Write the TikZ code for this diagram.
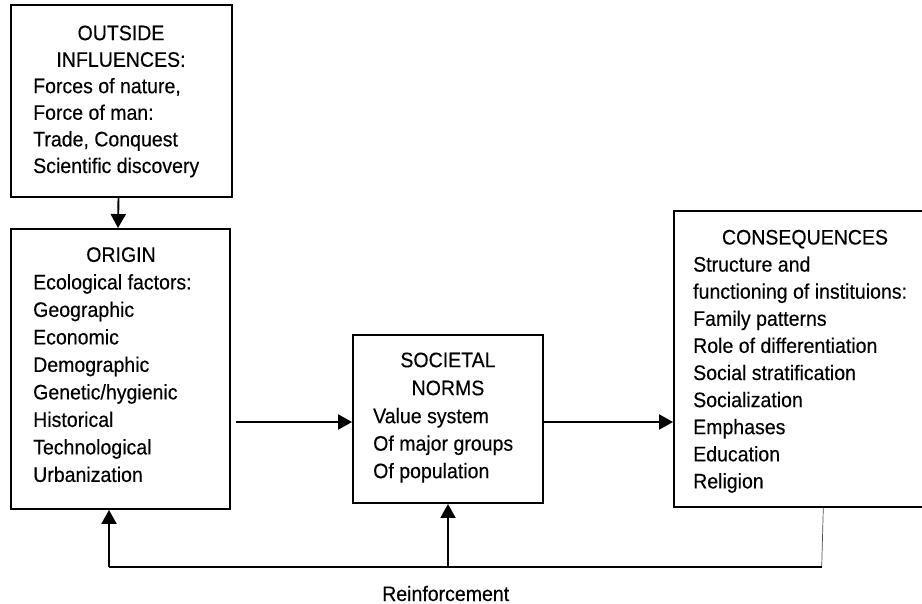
\documentclass[tikz,border=0pt]{standalone}
\usepackage{fontspec}
\setmainfont{Liberation Sans}[FakeStretch=0.93,FakeBold=0.3]
\usetikzlibrary{arrows.meta}
\newcommand{\fst}{\rule{0pt}{16pt}}
\begin{document}
\begin{tikzpicture}[x=1pt,y=-1pt,
  box/.style={draw,line width=1.9pt,inner sep=0pt},
  ttl/.style={anchor=north,inner sep=0pt,align=center},
  bdy/.style={anchor=north west,inner sep=0pt,align=left},
  arr/.style={line width=1.9pt,-{Triangle[length=14pt,width=15pt]}},
  ln/.style={line width=1.9pt},
  thinln/.style={line width=0.7pt,black!70}]
\useasboundingbox (0,0) rectangle (922,604);
\clip (0,0) rectangle (922,604);
% boxes
\node[box,minimum width=221pt,minimum height=192pt] (out) at (121.5,101) {};
\node[box,minimum width=219pt,minimum height=280pt] (ori) at (120.5,369) {};
\node[box,minimum width=190pt,minimum height=168pt] (soc) at (448,419) {};
\node[box,minimum width=260pt,minimum height=296pt] (con) at (804,359) {};
% texts
\node[ttl,font=\fontsize{21}{26.6}\selectfont] (outT) at (121,24) {\fst OUTSIDE\\INFLUENCES:};
\node[bdy,font=\fontsize{21}{26.6}\selectfont] (outB) at (33,77) {\fst Forces of nature,\\Force of man:\\Trade, Conquest\\Scientific discovery};
\node[ttl,font=\fontsize{21}{27.5}\selectfont] (oriT) at (121,245.7) {\fst ORIGIN};
\node[bdy,font=\fontsize{21}{27.5}\selectfont] (oriB) at (33,273.2) {\fst Ecological factors:\\Geographic\\Economic\\Demographic\\Genetic/hygienic\\Historical\\Technological\\Urbanization};
\node[ttl,font=\fontsize{21}{28}\selectfont] (socT) at (448,351) {\fst SOCIETAL\\NORMS};
\node[bdy,font=\fontsize{21}{27.5}\selectfont] (socB) at (373,407) {\fst Value system\\Of major groups\\Of population};
\node[ttl,font=\fontsize{21}{27.1}\selectfont] (conT) at (805,228.3) {\fst CONSEQUENCES};
\node[bdy,font=\fontsize{21}{27.1}\selectfont] (conB) at (693,255.4) {\fst Structure and\\functioning of instituions:\\Family patterns\\Role of differentiation\\Social stratification\\Socialization\\Emphases\\Education\\Religion};
\node[anchor=base west,inner sep=0pt,font=\fontsize{21}{25}\selectfont] (reinf) at (382,601) {Reinforcement};
% connectors
\draw[arr] ([xshift=-3pt]out.south) -- ([xshift=-2.5pt]ori.north);
\draw[arr,shorten <=5pt] (ori.east |- 0,422) -- (soc.west |- 0,422);
\draw[arr] (soc.east |- 0,422) -- (con.west |- 0,422);
\coordinate (fbR) at (821.7,567);
\coordinate (fbL) at (109,567);
\draw[thinln] (con.south -| 823.3,0) -- (fbR);
\draw[ln] (fbR) -- (fbL);
\draw[arr] (fbL) -- (fbL |- ori.south);
\draw[arr] (soc.south |- fbR) -- (soc.south);
\end{tikzpicture}
\end{document}
